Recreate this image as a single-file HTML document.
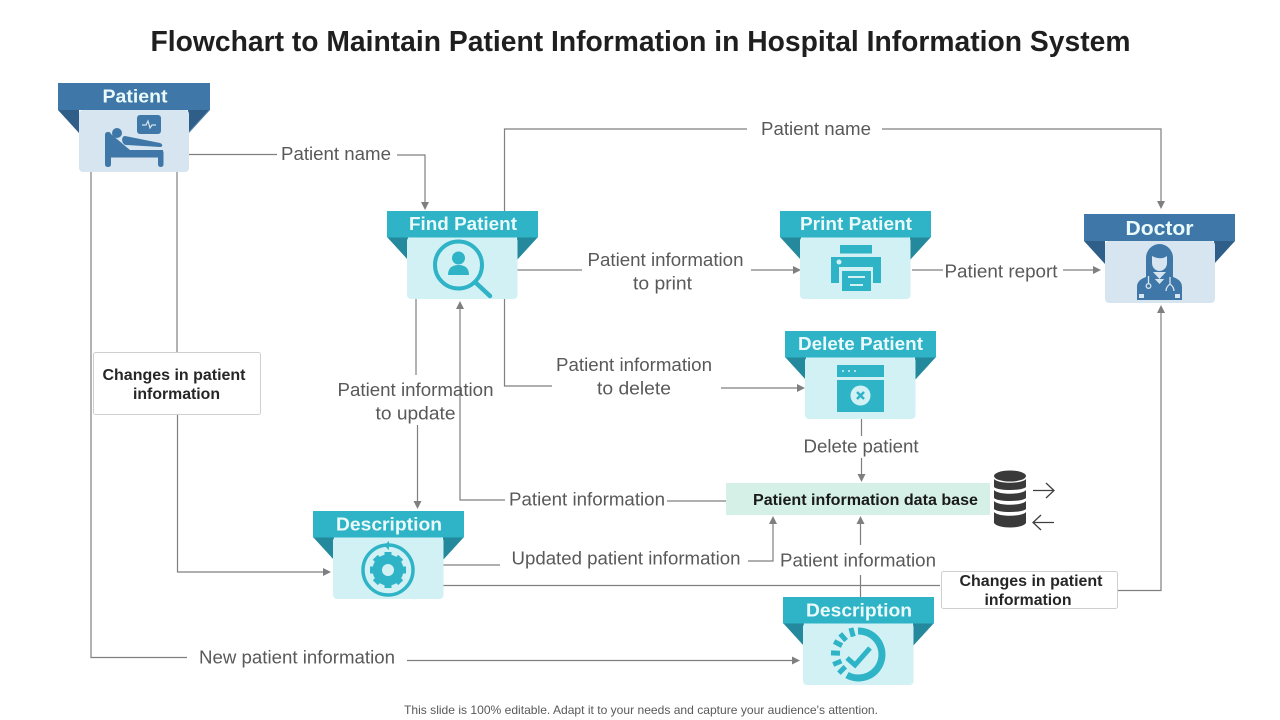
<!DOCTYPE html>
<html><head><meta charset="utf-8"><title>Flowchart</title>
<style>
html,body{margin:0;padding:0;background:#fff;width:1280px;height:720px;overflow:hidden}
svg{display:block}
text{font-family:"Liberation Sans",sans-serif}
.l{font-size:18px;fill:#595959;text-anchor:middle}
.h{font-size:18.5px;font-weight:bold;fill:#eafafa;text-anchor:middle}
.b{font-size:16px;font-weight:bold;fill:#262626;text-anchor:middle}
.c{fill:none;stroke:#7f7f7f;stroke-width:1.2}
.a{fill:#7f7f7f}
.t{fill:#2fb3c6}
.u{fill:#3f78a8}
</style></head><body>
<svg width="1280" height="720" viewBox="0 0 1280 720" xmlns="http://www.w3.org/2000/svg">
<defs>
<g id="tealcard">
<path d="M0 26H21V49ZM151 26H130V49Z" fill="#24899c"/>
<rect x="20" y="26" width="110.500" height="62" rx="4" fill="#d2f1f5"/>
<rect width="151" height="26.500" fill="#2fb3c6"/>
</g>
<g id="bluecard">
<path d="M0 27H21V50ZM151 27H130V50Z" fill="#2f5f88"/>
<rect x="21" y="27" width="110" height="62" rx="4" fill="#d6e5f0"/>
<rect width="151" height="27" fill="#3f78a8"/>
</g>
</defs>

<text x="640.500" y="51" font-size="28.500" font-weight="bold" fill="#1f1f1f" text-anchor="middle" textLength="980" lengthAdjust="spacingAndGlyphs">Flowchart to Maintain Patient Information in Hospital Information System</text>

<!-- connectors -->
<path class="c" d="M189 154.500H277M397 155H425V204"/>
<path class="c" d="M504.500 211V129H747M882 129H1161V203"/>
<path class="c" d="M517 270H582M751 270H795"/>
<path class="c" d="M912 270H943M1063 270H1095"/>
<path class="c" d="M504.500 299V386H552M721 388H799"/>
<path class="c" d="M416 299V375M417.500 425V503"/>
<path class="c" d="M460 308V500H505M667 501H726"/>
<path class="c" d="M861.500 419V436M861.500 458V476"/>
<path class="c" d="M443 565H500M748 561H773V523"/>
<path class="c" d="M860.500 545V523M860.500 575V597"/>
<path class="c" d="M443 585.500H940"/>
<path class="c" d="M1118 590.500H1161V312"/>
<path class="c" d="M177 172V352M177.500 415V572H325"/>
<path class="c" d="M91 172V657.500H187M407 660.500H794"/>

<!-- arrowheads -->
<g class="a">
<path d="M421 202H429L425 210Z"/>
<path d="M1157 201H1165L1161 209Z"/>
<path d="M793 266V274L801 270Z"/>
<path d="M1093 266V274L1101 270Z"/>
<path d="M797 384V392L805 388Z"/>
<path d="M413.500 501H421.500L417.500 509Z"/>
<path d="M456 309H464L460 301Z"/>
<path d="M857.500 474H865.500L861.500 482Z"/>
<path d="M769 524H777L773 516Z"/>
<path d="M856.500 524H864.500L860.500 516Z"/>
<path d="M1157 313H1165L1161 305Z"/>
<path d="M323 568V576L331 572Z"/>
<path d="M792 656.500V664.500L800 660.500Z"/>
</g>

<!-- Patient -->
<use href="#bluecard" x="58" y="83"/>
<path d="M209 83H210V110L189 133V132L209 110Z" fill="#3f78a8"/>
<text class="h" x="135" y="102.500" textLength="65" lengthAdjust="spacingAndGlyphs">Patient</text>
<g class="u">
<rect x="137" y="115" width="24" height="19" rx="3"/>
<rect x="105" y="132" width="6" height="35" rx="2.500"/>
<rect x="158" y="150" width="5.500" height="17" rx="2.500"/>
<rect x="105" y="150" width="58" height="7.500"/>
<path d="M111 134L130 150H111Z"/>
<circle cx="117" cy="133" r="5"/>
<path d="M125 136L160 143C163 144 163 147 160 147L126 145C121 144 121 136 125 136Z"/>
</g>
<path d="M142 125H146L148 121L150 128L152 125H156" fill="none" stroke="#d6e5f0" stroke-width="1.200"/>

<!-- Find Patient -->
<use href="#tealcard" x="387" y="211"/>
<text class="h" x="463" y="230" textLength="108" lengthAdjust="spacingAndGlyphs">Find Patient</text>
<circle cx="458.500" cy="265" r="23.500" fill="none" stroke="#2fb3c6" stroke-width="4"/>
<path d="M475 282L490 296" stroke="#2fb3c6" stroke-width="4.500" stroke-linecap="round"/>
<circle class="t" cx="458.500" cy="258" r="6.500"/>
<path class="t" d="M448 275C448 268 452 265 458.500 265C465 265 469 268 469 275Z"/>

<!-- Print Patient -->
<use href="#tealcard" x="780" y="211"/>
<text class="h" x="856" y="230" textLength="112" lengthAdjust="spacingAndGlyphs">Print Patient</text>
<rect class="t" x="840" y="245" width="32" height="8.500"/>
<path class="t" d="M831 257H881V283H873V267H839V283H831Z"/>
<circle cx="839" cy="262" r="2.500" fill="#d2f1f5"/>
<rect class="t" x="842" y="271" width="29" height="20"/>
<path d="M848 277H865M850 285H863" stroke="#d2f1f5" stroke-width="2"/>

<!-- Delete Patient -->
<use href="#tealcard" x="785" y="331"/>
<text class="h" x="860.500" y="350" textLength="125" lengthAdjust="spacingAndGlyphs">Delete Patient</text>
<rect class="t" x="837" y="365" width="47" height="12"/>
<rect class="t" x="837" y="380" width="47" height="32"/>
<g fill="#d2f1f5"><circle cx="843" cy="371" r="1"/><circle cx="849" cy="371" r="1"/><circle cx="855" cy="371" r="1"/><circle cx="860.500" cy="395.500" r="10"/></g>
<path d="M857 392L864 399M864 392L857 399" stroke="#2fb3c6" stroke-width="2.500"/>

<!-- Doctor -->
<use href="#bluecard" x="1084" y="214"/>
<text class="h" x="1159.500" y="235" style="font-size:20px" textLength="68" lengthAdjust="spacingAndGlyphs">Doctor</text>
<path class="u" d="M1146 279V258A13.500 14 0 0 1 1173 258V279Z"/>
<path d="M1152 256C1158 259 1163 259 1167 256V263C1167 268 1163 271 1159.500 271C1156 271 1152 268 1152 263Z" fill="#d6e5f0"/>
<path class="u" d="M1137 300V287C1137 280 1143 278 1151 275L1159.500 284L1168 275C1176 278 1182 280 1182 287V300Z"/>
<path d="M1153 272L1159.500 279L1166 272Z" fill="#d6e5f0"/>
<path d="M1148.500 276V283M1170 284C1166 287 1166 290 1166 291M1170 284C1174 287 1174 290 1174 291M1170 277V284" fill="none" stroke="#d6e5f0" stroke-width="1.300"/>
<circle cx="1148.500" cy="286" r="2.300" fill="none" stroke="#d6e5f0" stroke-width="1.300"/>
<path d="M1139 294H1144V298H1139ZM1175 294H1180V298H1175Z" fill="#d6e5f0"/>

<!-- Description 1 -->
<use href="#tealcard" x="313" y="511"/>
<text class="h" x="389" y="530.500" textLength="106" lengthAdjust="spacingAndGlyphs">Description</text>
<circle cx="388" cy="570" r="25" fill="none" stroke="#2fb3c6" stroke-width="3.500"/>
<path d="M389 541L384 545.500L389 550Z" fill="#2fb3c6"/>
<circle cx="388" cy="570" r="11.500" fill="none" stroke="#2fb3c6" stroke-width="8"/>
<path d="M388 552V588M370 570H406M375.300 557.300L400.700 582.700M400.700 557.300L375.300 582.700" stroke="#2fb3c6" stroke-width="7"/>
<circle cx="388" cy="570" r="6" fill="#d2f1f5"/>

<!-- Description 2 -->
<use href="#tealcard" x="783" y="597"/>
<text class="h" x="859" y="616.500" textLength="106" lengthAdjust="spacingAndGlyphs">Description</text>
<path d="M858 631A23.500 23.500 0 1 1 847 675" fill="none" stroke="#2fb3c6" stroke-width="7"/>
<path d="M853.300 636.600L850.900 628M846.100 640.500L840.200 633.800M842 645.600L834.100 641.500M840 653.300L831 652.900M841.400 661L833.200 664.500M845.300 666.700L838.900 673.100" stroke="#2fb3c6" stroke-width="5"/>
<path d="M847 658L855 665L870 648" fill="none" stroke="#2fb3c6" stroke-width="5"/>

<!-- boxes -->
<rect x="93.500" y="352.500" width="167" height="62" rx="2" fill="#fff" stroke="#cfcfcf"/>
<text class="b" x="174" y="380" textLength="143" lengthAdjust="spacingAndGlyphs">Changes in patient</text>
<text class="b" x="176.500" y="399" textLength="87" lengthAdjust="spacingAndGlyphs">information</text>

<rect x="726" y="483" width="264" height="32" fill="#d5f0e6"/>
<text class="b" x="865.500" y="505" textLength="225" lengthAdjust="spacingAndGlyphs" style="fill:#1a1a1a">Patient information data base</text>

<rect x="941.500" y="571.500" width="176" height="37" rx="2" fill="#fff" stroke="#cfcfcf"/>
<text class="b" x="1031" y="586" textLength="143" lengthAdjust="spacingAndGlyphs">Changes in patient</text>
<text class="b" x="1028" y="605" textLength="87" lengthAdjust="spacingAndGlyphs">information</text>

<!-- database -->
<g fill="#3a3a3a">
<ellipse cx="1010" cy="476" rx="16" ry="5.500"/>
<path d="M994 479C998 484 1022 484 1026 479V487C1022 491 998 491 994 487Z"/>
<path d="M994 490C998 495 1022 495 1026 490V498C1022 502 998 502 994 498Z"/>
<path d="M994 501C998 506 1022 506 1026 501V509C1022 513 998 513 994 509Z"/>
<path d="M994 512C998 517 1022 517 1026 512V523C1022 529 998 529 994 523Z"/>
</g>
<path d="M1033 490.500H1054M1046 483L1054 490.500L1046 498M1054 522.500H1033M1041 515L1033 522.500L1041 530" fill="none" stroke="#404040" stroke-width="1.300"/>

<!-- labels -->
<text class="l" x="336" y="160" textLength="110" lengthAdjust="spacingAndGlyphs">Patient name</text>
<text class="l" x="816" y="135" textLength="110" lengthAdjust="spacingAndGlyphs">Patient name</text>
<text class="l" x="665.500" y="266" textLength="156" lengthAdjust="spacingAndGlyphs">Patient information</text>
<text class="l" x="662.500" y="289.500" textLength="59" lengthAdjust="spacingAndGlyphs">to print</text>
<text class="l" x="1001" y="277.500" textLength="113" lengthAdjust="spacingAndGlyphs">Patient report</text>
<text class="l" x="634" y="371" textLength="156" lengthAdjust="spacingAndGlyphs">Patient information</text>
<text class="l" x="634" y="394.500" textLength="74" lengthAdjust="spacingAndGlyphs">to delete</text>
<text class="l" x="415.500" y="396" textLength="156" lengthAdjust="spacingAndGlyphs">Patient information</text>
<text class="l" x="415.500" y="419.500" textLength="80" lengthAdjust="spacingAndGlyphs">to update</text>
<text class="l" x="861" y="452.500" textLength="115" lengthAdjust="spacingAndGlyphs">Delete patient</text>
<text class="l" x="587" y="505.500" textLength="156" lengthAdjust="spacingAndGlyphs">Patient information</text>
<text class="l" x="626" y="564.500" textLength="229" lengthAdjust="spacingAndGlyphs">Updated patient information</text>
<text class="l" x="858" y="566.500" textLength="156" lengthAdjust="spacingAndGlyphs">Patient information</text>
<text class="l" x="297" y="663.500" textLength="196" lengthAdjust="spacingAndGlyphs">New patient information</text>

<text x="641" y="714" font-size="12" fill="#595959" text-anchor="middle" textLength="474" lengthAdjust="spacingAndGlyphs">This slide is 100% editable. Adapt it to your needs and capture your audience's attention.</text>
</svg>
</body></html>
